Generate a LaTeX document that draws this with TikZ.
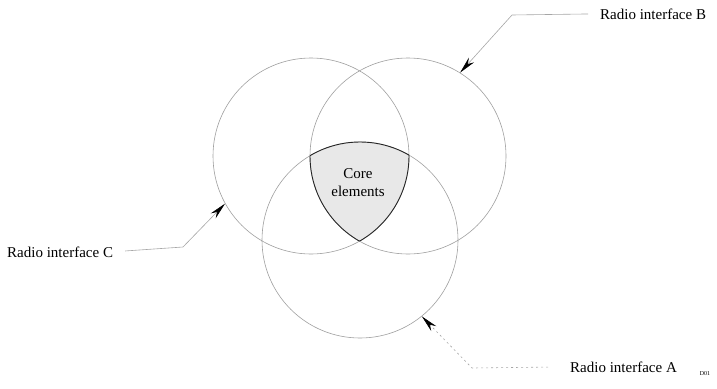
\documentclass[tikz,border=0pt]{standalone}
\usepackage{fontspec}
\setmainfont{Liberation Serif}
\usetikzlibrary{arrows.meta}
\begin{document}
\begin{tikzpicture}[x=1pt,y=-1pt,
  ring/.style={circle,draw=gray!75,line width=0.6pt,minimum size=196pt,inner sep=0pt},
  lbl/.style={font=\fontsize{15}{18}\selectfont,inner sep=0pt},
  leader/.style={draw=gray!70,line width=0.6pt,arrows={-Stealth[length=17pt,width=7pt,color=black,fill=black]}},
  coreedge/.style={draw=black!85,line width=0.9pt}]
\useasboundingbox (0,0) rectangle (717,388);
% circles
\node[ring] (cC) at (311,156) {};
\node[ring] (cB) at (408,156) {};
\node[ring] (cA) at (360,240) {};
% core region
\begin{scope}
  \clip (311,156) circle (98);
  \clip (408,156) circle (98);
  \fill[gray!18] (360,240) circle (98);
\end{scope}
\begin{scope}
  \clip (311,156) circle (98);
  \clip (408,156) circle (98);
  \draw[coreedge] (360,240) circle (98);
\end{scope}
\begin{scope}
  \clip (360,240) circle (98);
  \clip (408,156) circle (98);
  \draw[coreedge] (311,156) circle (98);
\end{scope}
\begin{scope}
  \clip (360,240) circle (98);
  \clip (311,156) circle (98);
  \draw[coreedge] (408,156) circle (98);
\end{scope}
\node[lbl,anchor=base] (core) at (358,178) {Core};
\node[lbl,anchor=base] (elem) at (358,196) {elements};
% labels
\node[lbl,anchor=base west] (labB) at (600,19) {Radio interface B};
\node[lbl,anchor=base west] (labC) at (7,257) {Radio interface C};
\node[lbl,anchor=base west] (labA) at (570,372) {Radio interface A};
\node[font=\fontsize{6}{7}\selectfont,inner sep=0pt] (dno) at (705,374) {D01};
% leaders
\coordinate (bendB) at (512,15);
\coordinate (bendC) at (183,247);
\coordinate (bendA) at (472,368);
\draw[leader,shorten <=12pt] (labB.west) -- (bendB) -- (cB.58.2);
\draw[leader,shorten <=12pt] (labC.east) -- (bendC) -- (cC.209.2);
\draw[leader,dash pattern=on 2pt off 3pt,shorten <=22pt] (labA.west) -- (bendA) -- (cA.309.2);
\end{tikzpicture}
\end{document}
